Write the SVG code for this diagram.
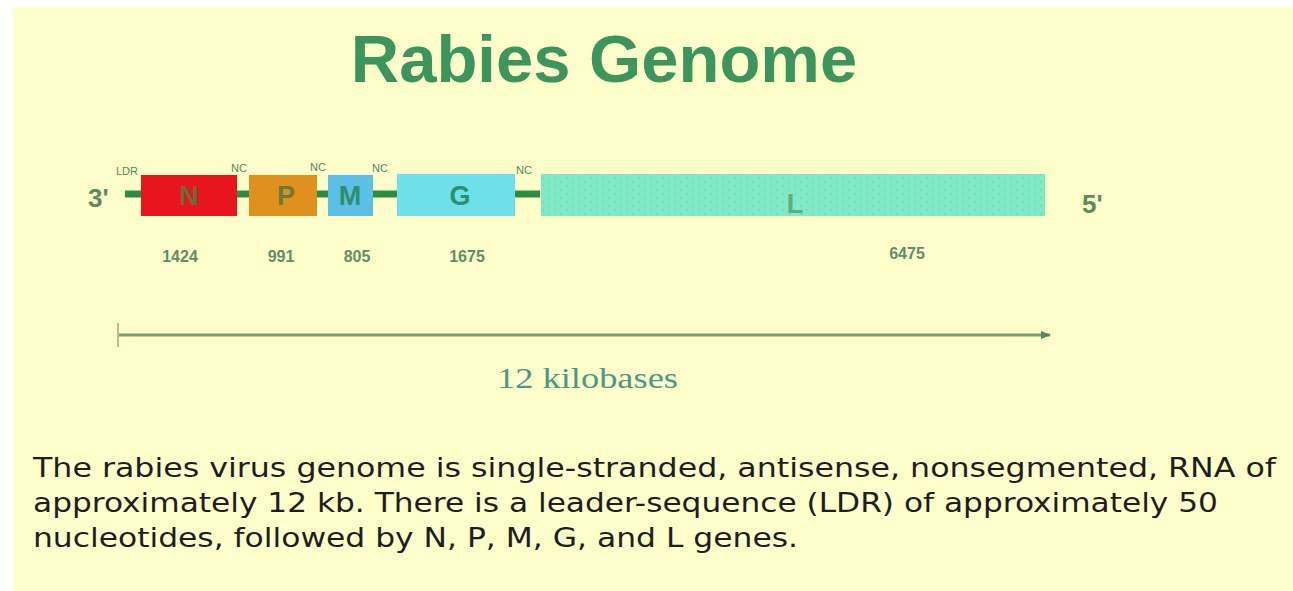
<svg xmlns="http://www.w3.org/2000/svg" width="1293" height="591" viewBox="0 0 1293 591">
<defs>
<style>
.ttl{font-family:"Liberation Sans",Arial,sans-serif;font-weight:bold;font-size:67px;fill:#3b955c}
.end{font-family:"Liberation Sans",Arial,sans-serif;font-weight:bold;font-size:26px;fill:#5f8a60}
.gene{font-family:"Liberation Sans",Arial,sans-serif;font-weight:bold;font-size:27px;text-anchor:middle}
.sm{font-family:"Liberation Sans",Arial,sans-serif;font-size:11px;fill:#4f8a60}
.num{font-family:"Liberation Sans",Arial,sans-serif;font-weight:bold;font-size:16px;fill:#5f8e6a;text-anchor:middle}
.kb{font-family:"Liberation Serif","Times New Roman",serif;font-size:29px;fill:#4a9a86}
.desc{font-family:"DejaVu Sans",Verdana,sans-serif;font-size:26px;fill:#1e1e1e}
</style>
<pattern id="dots" width="12" height="8" patternUnits="userSpaceOnUse">
<rect width="12" height="8" fill="#80e9c6"/>
<circle cx="3" cy="2" r="0.8" fill="#6cc8a8"/>
<circle cx="9" cy="6" r="0.8" fill="#6cc8a8"/>
</pattern>
<marker id="ah" markerWidth="10" markerHeight="8" refX="9" refY="4" orient="auto" markerUnits="userSpaceOnUse">
<path d="M0,0 L10,4 L0,8 Z" fill="#4f8a60"/>
</marker>
</defs>
<rect x="0" y="0" width="1293" height="591" fill="#ffffff"/>
<rect x="13" y="7" width="1280" height="584" fill="#ffffcc"/>
<text class="ttl" x="604" y="82" text-anchor="middle">Rabies Genome</text>
<g id="connectors">
<line x1="125" y1="194" x2="540" y2="194" stroke="#2e8b42" stroke-width="7"/>
<line x1="118" y1="323" x2="118" y2="347" stroke="#9ab08a" stroke-width="1.5"/>
<line x1="119" y1="335" x2="1050" y2="335" stroke="#7f9e76" stroke-width="3" marker-end="url(#ah)"/>
</g>
<g id="end3"><text class="end" x="88" y="207">3'</text></g>
<g id="end5"><text class="end" x="1082" y="213">5'</text></g>
<g id="ldr"><text class="sm" x="116" y="175">LDR</text></g>
<g id="nc1"><text class="sm" x="231" y="172">NC</text></g>
<g id="nc2"><text class="sm" x="310" y="171">NC</text></g>
<g id="nc3"><text class="sm" x="372" y="172">NC</text></g>
<g id="nc4"><text class="sm" x="516" y="174">NC</text></g>
<g id="geneN">
<rect x="141" y="175" width="96" height="41" fill="#e8141e"/>
<text class="gene" x="189" y="205" fill="#6b6b3a">N</text>
<text class="num" x="180" y="262">1424</text>
</g>
<g id="geneP">
<rect x="249" y="175" width="68" height="41" fill="#e0901c"/>
<text class="gene" x="286" y="205" fill="#6b7a3a">P</text>
<text class="num" x="281" y="262">991</text>
</g>
<g id="geneM">
<rect x="328" y="175" width="45" height="41" fill="#5cc0e6"/>
<text class="gene" x="350" y="205" fill="#2f8f6a">M</text>
<text class="num" x="357" y="262">805</text>
</g>
<g id="geneG">
<rect x="397" y="174" width="118" height="42" fill="#6ee0ea"/>
<text class="gene" x="460" y="205" fill="#2f8f6a">G</text>
<text class="num" x="467" y="262">1675</text>
</g>
<g id="geneL">
<rect x="541" y="174" width="504" height="42" fill="url(#dots)"/>
<text class="gene" x="795" y="213" fill="#5fae80">L</text>
<text class="num" x="907" y="259">6475</text>
</g>
<text class="kb" x="497" y="388" textLength="181" lengthAdjust="spacingAndGlyphs">12 kilobases</text>
<text class="desc" x="33" y="477" textLength="1243" lengthAdjust="spacingAndGlyphs">The rabies virus genome is single-stranded, antisense, nonsegmented, RNA of</text>
<text class="desc" x="33" y="512" textLength="1185" lengthAdjust="spacingAndGlyphs">approximately 12 kb. There is a leader-sequence (LDR) of approximately 50</text>
<text class="desc" x="33" y="547" textLength="765" lengthAdjust="spacingAndGlyphs">nucleotides, followed by N, P, M, G, and L genes.</text>
</svg>
